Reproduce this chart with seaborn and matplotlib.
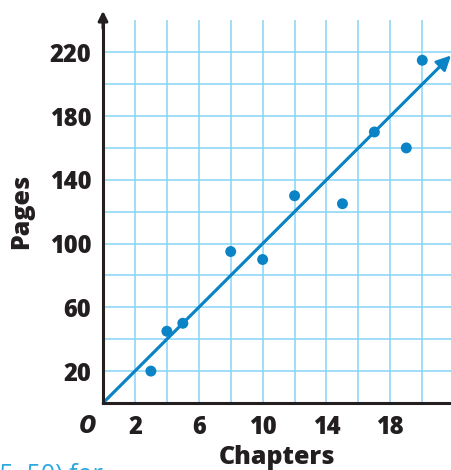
import matplotlib
matplotlib.use('Agg')
import matplotlib.pyplot as plt
import seaborn as sns
import pandas as pd

# data
chapters = [3, 4, 5, 8, 10, 12, 15, 17, 19, 20]
pages = [20, 45, 50, 95, 90, 130, 125, 170, 160, 215]
trend_slope = 10
trend_x = [0, 21.8]
trend_y = [trend_slope * x for x in trend_x]

x_ticks = list(range(2, 21, 2))
x_labels = ['2', '', '6', '', '10', '', '14', '', '18', '']
y_ticks = list(range(20, 221, 20))
y_labels = ['20', '', '60', '', '100', '', '140', '', '180', '', '220']

blue = '#0a84c6'
grid_blue = '#86d5f5'
ink = '#231f20'

sns.set_style('white')
plt.rcParams['font.family'] = ['Open Sans', 'DejaVu Sans']

df = pd.DataFrame({'Chapters': chapters, 'Pages': pages})

fig = plt.figure(figsize=(4.51, 4.70), dpi=100)
ax = fig.add_axes([0.2284, 0.1426, 0.7716, 0.814])

ax.set_xlim(0, 21.8)
ax.set_ylim(0, 240)
ax.set_xticks(x_ticks)
ax.set_xticklabels(x_labels)
ax.set_yticks(y_ticks)
ax.set_yticklabels(y_labels)
ax.grid(True, color=grid_blue, lw=1.1)
ax.set_axisbelow(True)

for s in ['top', 'right']:
    ax.spines[s].set_visible(False)
for s in ['left', 'bottom']:
    ax.spines[s].set_color(ink)
    ax.spines[s].set_linewidth(2.2)
    ax.spines[s].set_zorder(5)

ax.tick_params(direction='inout', length=9, width=1.3, color=ink, pad=4,
               labelsize=17, labelcolor=ink)
for lab in ax.get_xticklabels() + ax.get_yticklabels():
    lab.set_fontweight('heavy')

# trend line with arrow head
sns.lineplot(x=trend_x[:1] + [trend_x[1] - 0.6], y=trend_y[:1] + [trend_y[1] - 6],
             color=blue, lw=2, ax=ax, zorder=3)
ax.annotate('', xy=(trend_x[1], trend_y[1]), xytext=(0, 0),
            arrowprops=dict(arrowstyle='-|>', color=blue, lw=2, mutation_scale=22,
                            shrinkA=0, shrinkB=0),
            annotation_clip=False, zorder=3)

sns.scatterplot(data=df, x='Chapters', y='Pages', color=blue, s=62,
                edgecolor='none', ax=ax, zorder=4, clip_on=False)

# y axis arrow
ax.annotate('', xy=(0, 246), xytext=(0, 235),
            arrowprops=dict(arrowstyle='-|>', color=ink, lw=2.2, mutation_scale=14,
                            shrinkA=0, shrinkB=0),
            annotation_clip=False)

ax.set_xlabel('Chapters', fontsize=18, fontweight='heavy', color=ink, labelpad=4)
ax.set_ylabel('Pages', fontsize=18, fontweight='heavy', color=ink, labelpad=11)

ax.text(-0.95, -7, 'O', fontsize=17, fontweight='heavy', style='italic', color=ink,
        ha='center', va='top')

fig.text(-0.018, (470 - 463) / 470, '(5, 50) for', fontsize=18, color='#2aa8df',
         ha='left', va='top')

fig.savefig('out.png', dpi=100)
